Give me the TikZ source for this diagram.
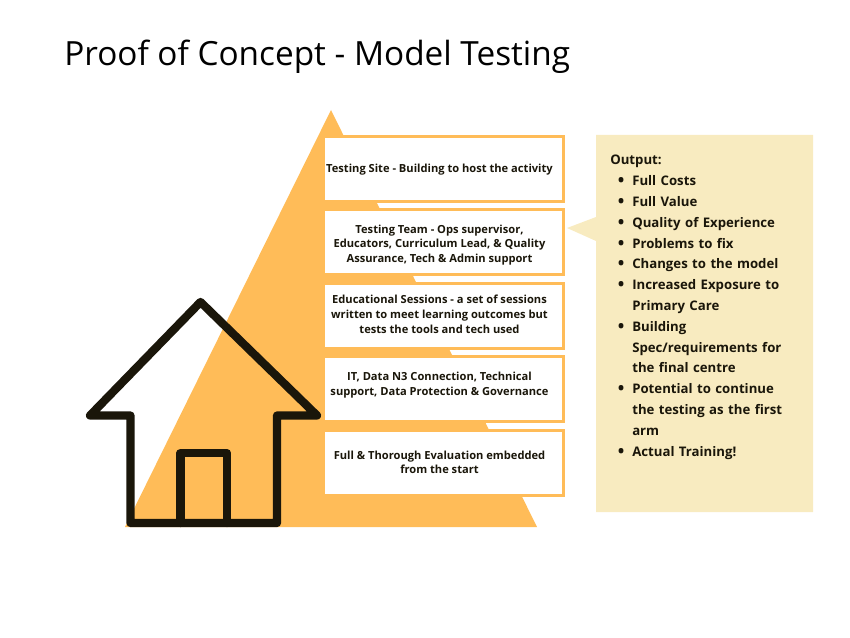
\documentclass[tikz,border=0pt]{standalone}
\usepackage{fontspec}
\setmainfont{Open Sans}
\usepackage{enumitem}
\usepackage{tikz}
\usetikzlibrary{positioning}
\definecolor{pyramid}{HTML}{FFBC58}
\definecolor{panel}{HTML}{F8EBC0}
\definecolor{ink}{HTML}{1A160A}

\begin{document}
\begin{tikzpicture}[x=0.75pt,y=-0.75pt,node distance=4.125pt,
  levelbox/.style={draw=pyramid,line width=2.25pt,fill=white,minimum width=180pt,minimum height=48.75pt,inner sep=0pt},
  leveltext/.style={xshift=-3pt,align=center,text=ink,inner sep=0pt,font=\fontsize{8.35}{11}\selectfont\bfseries},
  house line/.style={draw=ink,line width=6.2pt,line join=round,line cap=round}]

  \useasboundingbox (0,0) rectangle (850,638);

  \node[anchor=base west,inner sep=0pt,text=black,font=\fontsize{25}{30}\selectfont] (title) at (64,65.5) {Proof of Concept - Model Testing};

  \fill[pyramid] (331,110) -- (537,527) -- (125,527) -- cycle;

  \node[levelbox] (site) at (443.5,168.8) {};
  \node[levelbox] (team) [below=of site] {};
  \node[levelbox] (sessions) [below=of team] {};
  \node[levelbox] (it) [below=of sessions] {};
  \node[levelbox] (evaluation) [below=of it] {};

  \node[leveltext,yshift=-0.75pt] (sitetext) at (site) {Testing Site - Building to host the activity};
  \node[leveltext,yshift=-1.9pt] (teamtext) at (team) {Testing Team - Ops supervisor,\\Educators, Curriculum Lead, \& Quality\\Assurance, Tech \& Admin support};
  \node[leveltext,yshift=1.1pt] (sessionstext) at (sessions) {Educational Sessions - a set of sessions\\written to meet learning outcomes but\\tests the tools and tech used};
  \node[leveltext,yshift=3.25pt] (ittext) at (it) {IT, Data N3 Connection, Technical\\support, Data Protection \& Governance};
  \node[leveltext,yshift=0.25pt] (evaluationtext) at (evaluation) {Full \& Thorough Evaluation embedded\\from the start};

  % output panel with its pointer
  \fill[panel] (596,135) -- (813,135) -- (813,512) -- (596,512) -- (596,241) -- (567,228) -- (596,217) -- cycle;
  \node[anchor=north west,inner sep=0pt,text width=155pt,text=ink,font=\fontsize{9.9}{15.6}\selectfont\bfseries] (output) at (610,155) {Output:
    \begin{itemize}[nosep,leftmargin=16.5pt,labelsep=6pt,label={\raisebox{-0.8pt}{\fontsize{13}{13}\selectfont\textbullet}}]
      \item Full Costs
      \item Full Value
      \item Quality of Experience
      \item Problems to fix
      \item Changes to the model
      \item Increased Exposure to\\Primary Care
      \item Building\\Spec/requirements for\\the final centre
      \item Potential to continue\\the testing as the first\\arm
      \item Actual Training!
    \end{itemize}};

  % house
  \draw[house line] (130.5,523) -- (130.5,415.5) -- (90,415.5) -- (200.5,302) -- (317,415.5) -- (277,415.5) -- (277,523) -- cycle;
  \draw[house line] (180.5,523) -- (180.5,453) -- (227,453) -- (227,523);
\end{tikzpicture}
\end{document}
